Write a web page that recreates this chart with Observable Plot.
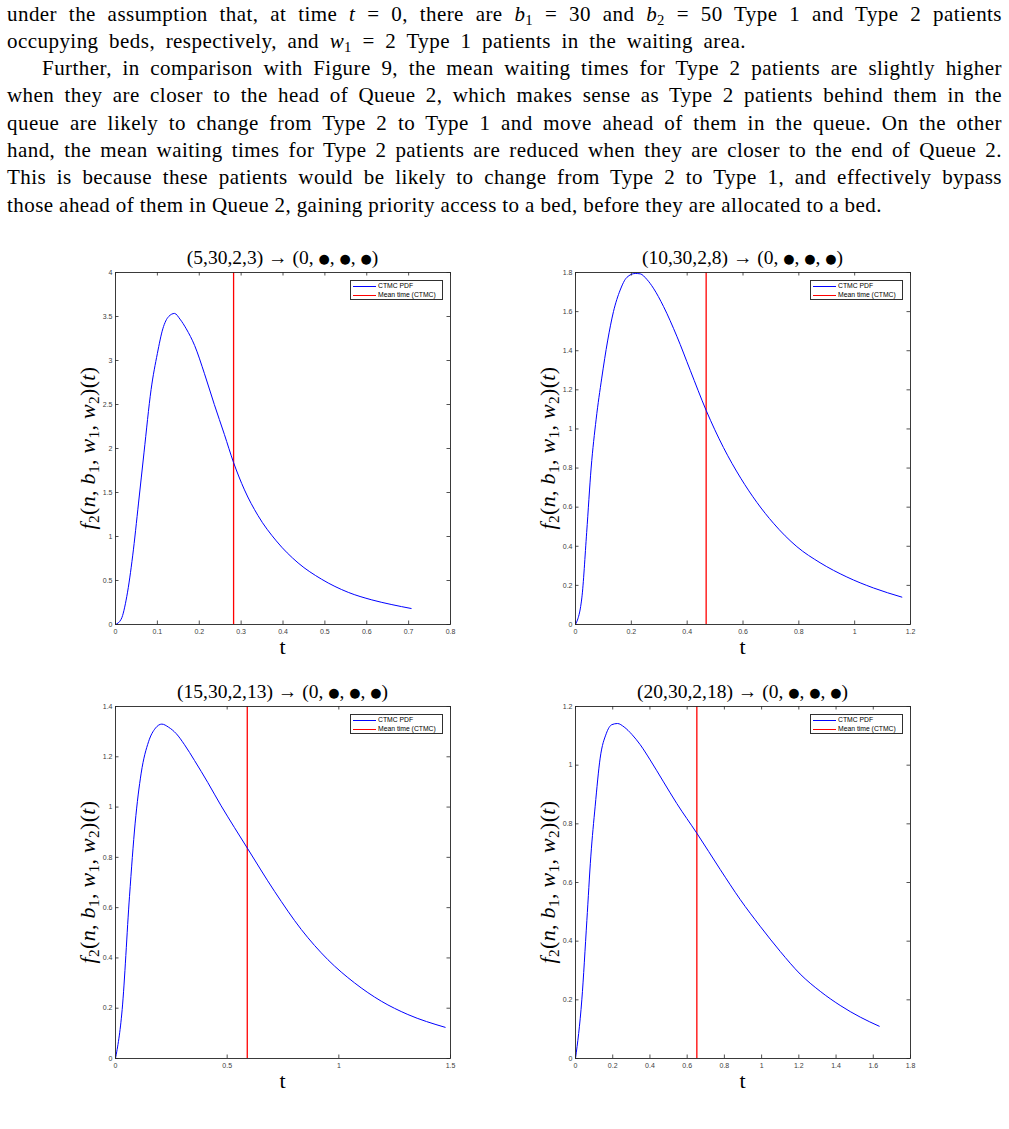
<!DOCTYPE html>
<html><head><meta charset="utf-8">
<script src="https://cdn.jsdelivr.net/npm/d3@7"></script>
<script src="https://cdn.jsdelivr.net/npm/@observablehq/plot@0.6"></script>
<style>
body{margin:0;background:#fff;}
#page{position:relative;width:1009px;height:1129px;overflow:hidden;background:#fff;}
.tl{position:absolute;left:7px;font-family:"Liberation Serif",serif;font-size:21px;letter-spacing:0.45px;line-height:27.3px;white-space:nowrap;color:#000;}
.tl sub, .lab sub{font-size:0.7em;line-height:0;vertical-align:-0.28em;}
.ttl{position:absolute;transform:translate(-50%,-50%);font-family:"Liberation Serif",serif;font-size:19.5px;white-space:nowrap;color:#000;}
.ttl .b{font-family:"DejaVu Sans";font-size:0.66em;vertical-align:0.1em;}
.xl{position:absolute;transform:translate(-50%,-50%);font-family:"Liberation Serif",serif;font-size:22px;color:#000;}
.lab{position:absolute;transform:translate(-50%,-50%) rotate(-90deg);font-family:"Liberation Serif",serif;font-size:22px;letter-spacing:0.3px;white-space:nowrap;color:#000;}
.leg{position:absolute;width:90.5px;height:18.8px;border:1px solid #303030;background:#fff;font-family:"Liberation Sans",Arial,sans-serif;font-size:6.8px;color:#000;}
.leg .row{position:absolute;left:2px;height:8px;line-height:8px;white-space:nowrap;}
.leg .sw{display:inline-block;width:23px;height:0;border-top:1px solid;vertical-align:middle;margin-right:2px;}
svg{position:absolute;overflow:visible;}
</style></head>
<body><div id="page"></div>
<script>
// ---- data ----
const titles = ["(5,30,2,3)", "(10,30,2,8)", "(15,30,2,13)", "(20,30,2,18)"];
const legendLabels = ["CTMC PDF", "Mean time (CTMC)"];
const meanTimes = [0.282, 0.468, 0.59, 0.652];

const t1 = [0, 0.0135, 0.027, 0.041, 0.055, 0.068, 0.085, 0.1, 0.113, 0.127, 0.141, 0.154, 0.169, 0.189, 0.2125, 0.236, 0.26, 0.282, 0.308, 0.34, 0.384, 0.436, 0.492, 0.556, 0.612, 0.66, 0.706];
const f1 = [0, 0.06, 0.32, 0.78, 1.38, 1.95, 2.67, 3.08, 3.36, 3.5, 3.535, 3.47, 3.36, 3.17, 2.85, 2.5, 2.16, 1.84, 1.53, 1.24, 0.95, 0.70, 0.515, 0.365, 0.28, 0.226, 0.182];

const t2 = [0, 0.0227, 0.04, 0.056, 0.074, 0.094, 0.115, 0.136, 0.16, 0.184, 0.214, 0.232, 0.2555, 0.279, 0.315, 0.363, 0.411, 0.468, 0.53, 0.592, 0.65, 0.709, 0.793, 0.876, 0.972, 1.067, 1.169];
const f2 = [0, 0.136, 0.47, 0.8, 1.05, 1.26, 1.45, 1.6, 1.71, 1.775, 1.795, 1.793, 1.765, 1.72, 1.627, 1.474, 1.3, 1.095, 0.905, 0.748, 0.624, 0.518, 0.398, 0.316, 0.243, 0.187, 0.14];

const t3 = [0, 0.0299, 0.0627, 0.088, 0.115, 0.148, 0.179, 0.2075, 0.237, 0.272, 0.309, 0.354, 0.413, 0.473, 0.533, 0.59, 0.712, 0.832, 0.951, 1.07, 1.19, 1.309, 1.476];
const f3 = [0, 0.195, 0.645, 0.936, 1.135, 1.26, 1.314, 1.33, 1.318, 1.292, 1.248, 1.185, 1.098, 1.005, 0.918, 0.837, 0.665, 0.513, 0.393, 0.301, 0.228, 0.175, 0.124];

const t4 = [0, 0.034, 0.061, 0.0824, 0.1057, 0.1325, 0.165, 0.195, 0.2257, 0.2615, 0.3027, 0.3475, 0.401, 0.473, 0.5445, 0.652, 0.778, 0.885, 0.992, 1.1, 1.207, 1.315, 1.422, 1.53, 1.632];
const f4 = [0, 0.2, 0.47, 0.69, 0.86, 1.024, 1.107, 1.138, 1.142, 1.13, 1.105, 1.07, 1.018, 0.943, 0.869, 0.768, 0.644, 0.542, 0.451, 0.365, 0.288, 0.229, 0.181, 0.141, 0.11];

const xTicks1 = [0, 0.1, 0.2, 0.3, 0.4, 0.5, 0.6, 0.7, 0.8];
const yTicks1 = [0, 0.5, 1, 1.5, 2, 2.5, 3, 3.5, 4];
const xTicks2 = [0, 0.2, 0.4, 0.6, 0.8, 1, 1.2];
const yTicks2 = [0, 0.2, 0.4, 0.6, 0.8, 1, 1.2, 1.4, 1.6, 1.8];
const xTicks3 = [0, 0.5, 1, 1.5];
const yTicks3 = [0, 0.2, 0.4, 0.6, 0.8, 1, 1.2, 1.4];
const xTicks4 = [0, 0.2, 0.4, 0.6, 0.8, 1, 1.2, 1.4, 1.6, 1.8];
const yTicks4 = [0, 0.2, 0.4, 0.6, 0.8, 1, 1.2];

// ---- page text ----
const page = document.getElementById("page");
const textLines = [
  {html: 'under the assumption that, at time <i>t</i> = 0, there are <i>b</i><sub>1</sub> = 30 and <i>b</i><sub>2</sub> = 50 Type 1 and Type 2 patients', indent: 0, w: 995},
  {html: 'occupying beds, respectively, and <i>w</i><sub>1</sub> = 2 Type 1 patients in the waiting area.', indent: 0, w: 739},
  {html: 'Further, in comparison with Figure 9, the mean waiting times for Type 2 patients are slightly higher', indent: 35, w: 960},
  {html: 'when they are closer to the head of Queue 2, which makes sense as Type 2 patients behind them in the', indent: 0, w: 995},
  {html: 'queue are likely to change from Type 2 to Type 1 and move ahead of them in the queue. On the other', indent: 0, w: 995},
  {html: 'hand, the mean waiting times for Type 2 patients are reduced when they are closer to the end of Queue 2.', indent: 0, w: 995},
  {html: 'This is because these patients would be likely to change from Type 2 to Type 1, and effectively bypass', indent: 0, w: 995},
  {html: 'those ahead of them in Queue 2, gaining priority access to a bed, before they are allocated to a bed.', indent: 0, w: 875}
];
textLines.forEach((ln, i) => {
  const d = document.createElement("div");
  d.className = "tl";
  d.style.top = (0.5 + i * 27.3) + "px";
  d.style.left = (7 + ln.indent) + "px";
  const s = document.createElement("span");
  s.innerHTML = ln.html;
  d.appendChild(s);
  page.appendChild(d);
  const w = s.getBoundingClientRect().width;
  const n = (s.textContent.match(/ /g) || []).length;
  d.style.wordSpacing = ((ln.w - w) / n) + "px";
});

// ---- plots ----
const panels = [
  {t: t1, f: f1, xt: xTicks1, yt: yTicks1, xMax: 0.8, yMax: 4, L: 115, T: 272},
  {t: t2, f: f2, xt: xTicks2, yt: yTicks2, xMax: 1.2, yMax: 1.8, L: 575, T: 272},
  {t: t3, f: f3, xt: xTicks3, yt: yTicks3, xMax: 1.5, yMax: 1.4, L: 115, T: 706},
  {t: t4, f: f4, xt: xTicks4, yt: yTicks4, xMax: 1.8, yMax: 1.2, L: 575, T: 706}
];
const W = 335, H = 352, mL = 30, mR = 10, mT = 10, mB = 24;
const fmt = d3.format("~g");

panels.forEach((p, i) => {
  const data = p.t.map((t, k) => ({t, v: p.f[k]}));
  const svg = Plot.plot({
    width: W + mL + mR,
    height: H + mT + mB,
    marginLeft: mL, marginRight: mR, marginTop: mT, marginBottom: mB,
    style: {fontFamily: '"Liberation Sans", Arial, sans-serif', fontSize: "7px", color: "#404040", background: "transparent"},
    x: {domain: [0, p.xMax], label: null},
    y: {domain: [0, p.yMax], label: null},
    marks: [
      Plot.ruleX([meanTimes[i]], {x: d => d, stroke: "#ff0000", strokeWidth: 1.3}),
      Plot.line(data, {x: "t", y: "v", stroke: "#0000ff", strokeWidth: 1, curve: "monotone-x"}),
      Plot.tickX(p.xt, {x: d => d, insetTop: H - 3.5, stroke: "#262626", strokeWidth: 0.8}),
      Plot.tickX(p.xt, {x: d => d, insetBottom: H - 3.5, stroke: "#262626", strokeWidth: 0.8}),
      Plot.tickY(p.yt, {y: d => d, insetRight: W - 3.5, stroke: "#262626", strokeWidth: 0.8}),
      Plot.tickY(p.yt, {y: d => d, insetLeft: W - 3.5, stroke: "#262626", strokeWidth: 0.8}),
      Plot.axisX({ticks: p.xt, tickSize: 0, tickPadding: 5, tickFormat: fmt, label: null}),
      Plot.axisY({ticks: p.yt, tickSize: 0, tickPadding: 3, tickFormat: fmt, label: null}),
      Plot.frame({stroke: "#262626", strokeWidth: 0.9})
    ]
  });
  svg.style.left = (p.L - mL) + "px";
  svg.style.top = (p.T - mT) + "px";
  page.appendChild(svg);

  const cx = p.L + W / 2, cy = p.T + H / 2;
  const tt = document.createElement("div");
  tt.className = "ttl";
  tt.style.left = cx + "px";
  tt.style.top = (p.T - 14.5) + "px";
  tt.innerHTML = titles[i] + ' \u2192 (0, <span class="b">\u25CF</span>, <span class="b">\u25CF</span>, <span class="b">\u25CF</span>)';
  page.appendChild(tt);

  const xl = document.createElement("div");
  xl.className = "xl";
  xl.style.left = cx + "px";
  xl.style.top = (p.T + H + 23) + "px";
  xl.textContent = "t";
  page.appendChild(xl);

  const yl = document.createElement("div");
  yl.className = "lab";
  yl.style.left = (p.L - 27) + "px";
  yl.style.top = cy + "px";
  yl.innerHTML = '<i>f</i><sub>2</sub>(<i>n</i>, <i>b</i><sub>1</sub>, <i>w</i><sub>1</sub>, <i>w</i><sub>2</sub>)(<i>t</i>)';
  page.appendChild(yl);

  const lg = document.createElement("div");
  lg.className = "leg";
  lg.style.left = (p.L + W - 7.5 - 92.5) + "px";
  lg.style.top = (p.T + 7.5) + "px";
  lg.innerHTML =
    '<div class="row" style="top:1.5px"><span class="sw" style="border-color:#0000ff"></span>' + legendLabels[0] + '</div>' +
    '<div class="row" style="top:10.5px"><span class="sw" style="border-color:#ff0000"></span>' + legendLabels[1] + '</div>';
  page.appendChild(lg);
});
</script>
</body></html>
